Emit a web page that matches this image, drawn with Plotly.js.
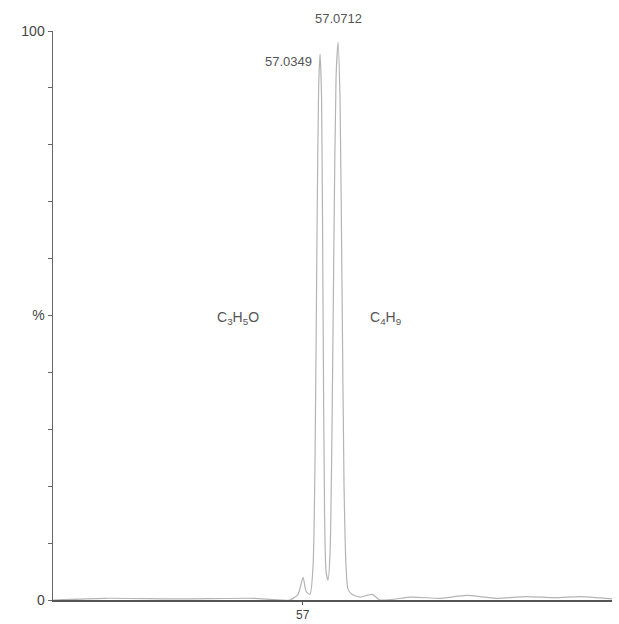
<!DOCTYPE html>
<html>
<head>
<meta charset="utf-8">
<script src="https://cdn.plot.ly/plotly-3.0.1.min.js"></script>
<style>html,body{margin:0;padding:0;background:#fff;}</style>
</head>
<body>
<div id="chart" style="width:619px;height:624px;"></div>
<script>
// profile spectrum: m/z and relative intensity (%)
var mz = [56.496, 56.60, 56.75, 56.90, 56.974, 56.9905, 57.0006, 57.0067, 57.0147, 57.0208, 57.0248, 57.0288, 57.0320, 57.0349, 57.0380, 57.0410, 57.0440, 57.0470, 57.0510, 57.0550, 57.0590, 57.0631, 57.0672, 57.0712, 57.0752, 57.0792, 57.0833, 57.0873, 57.0910, 57.0990, 57.1156, 57.1400, 57.1560, 57.2200, 57.2800, 57.3300, 57.3900, 57.4500, 57.5100, 57.5600, 57.6240];
var intensity = [0, 0.3, 0.2, 0.3, 0, 1, 4, 1.5, 1, 6, 25, 65, 90, 96, 88, 50, 15, 5, 3.5, 8, 30, 65, 92, 98, 88, 55, 20, 6, 2, 1, 0.5, 1, 0, 0.5, 0.3, 0.8, 0.3, 0.6, 0.4, 0.6, 0.2];

var yTickVals = [0, 10, 20, 30, 40, 50, 60, 70, 80, 90, 100];
var yTickText = ['0', '', '', '', '', '%', '', '', '', '', '100'];
var xTickVals = [57];
var xTickText = ['57'];

var peakLabels = ['57.0349', '57.0712'];
var peakMz = [57.0349, 57.0712];
var peakY = [96, 98];

var formulaText = ['C<sub>3</sub>H<sub>5</sub>O', 'C<sub>4</sub>H<sub>9</sub>'];
var formulaMz = [56.87, 57.167];
var formulaY = [49.5, 49.5];

var lblFont = 'Liberation Sans, Arial';
var annotations = [];
annotations.push({x: peakMz[0], y: peakY[0], xref: 'x', yref: 'y', text: peakLabels[0], showarrow: false, xanchor: 'right', yanchor: 'middle', xshift: -6, yshift: -8, font: {size: 13, color: '#555', family: lblFont}});
annotations.push({x: peakMz[1], y: peakY[1], xref: 'x', yref: 'y', text: peakLabels[1], showarrow: false, xanchor: 'center', yanchor: 'bottom', yshift: 14, font: {size: 13, color: '#555', family: lblFont}});
for (var i = 0; i < formulaText.length; i++) {
  annotations.push({x: formulaMz[i], y: formulaY[i], xref: 'x', yref: 'y', text: formulaText[i], showarrow: false, font: {size: 14, color: '#555', family: lblFont}});
}

var trace = {
  x: mz, y: intensity, type: 'scatter', mode: 'lines',
  line: {color: '#b4b4b4', width: 1.2, shape: 'spline', smoothing: 0.6},
  hoverinfo: 'skip'
};

var layout = {
  width: 619, height: 624,
  margin: {l: 53, r: 7, t: 31, b: 24},
  paper_bgcolor: '#fff', plot_bgcolor: '#fff',
  showlegend: false,
  xaxis: {
    range: [56.496, 57.624], showgrid: false, zeroline: false,
    showline: true, linecolor: '#555', linewidth: 2,
    tickmode: 'array', tickvals: xTickVals, ticktext: xTickText,
    ticks: 'outside', ticklen: 3, tickcolor: '#555',
    tickfont: {size: 12, color: '#444', family: lblFont}
  },
  yaxis: {
    range: [0, 100], showgrid: false, zeroline: false,
    showline: true, linecolor: '#666', linewidth: 1.5,
    tickmode: 'array', tickvals: yTickVals, ticktext: yTickText,
    ticks: 'outside', ticklen: 4, tickcolor: '#666',
    tickfont: {size: 14, color: '#444', family: lblFont}
  },
  annotations: annotations
};

Plotly.newPlot('chart', [trace], layout, {displayModeBar: false, staticPlot: true});
</script>
</body>
</html>
